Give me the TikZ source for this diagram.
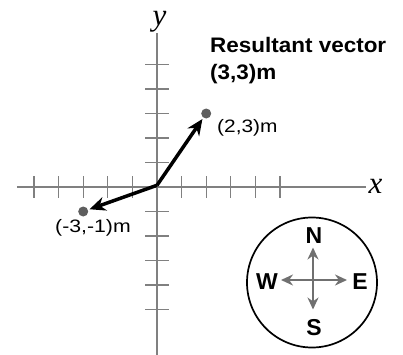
\documentclass[tikz,border=0pt]{standalone}
\usepackage{fontspec}
\setmainfont{Liberation Sans}
\newfontfamily\axisfont{Liberation Serif}
\usetikzlibrary{arrows.meta}
\definecolor{axisgray}{HTML}{808080}
\definecolor{dotgray}{HTML}{5E5E5E}
\definecolor{compassgray}{HTML}{707070}
\newcommand{\wide}[2]{\scalebox{#1}[1]{#2}}
\tikzset{
  axisline/.style={draw=axisgray, line width=1.4pt},
  tickline/.style={draw=axisgray, line width=1.3pt},
  vecarrow/.style={draw=black, line width=3.5pt, -{Stealth[length=16pt,width=14pt]}, shorten >=1.5pt},
  ptdot/.style={circle, fill=dotgray, inner sep=0pt, minimum size=10pt},
  ptlabel/.style={font=\fontsize{18}{21}\selectfont, inner sep=0pt, anchor=base west},
  axlabel/.style={font=\axisfont\itshape\fontsize{31}{33}\selectfont, inner sep=0pt},
  dirarrow/.style={draw=compassgray, line width=2pt, -{Stealth[length=12pt,width=11pt]}},
  dirlabel/.style={font=\bfseries\fontsize{23}{26}\selectfont, inner sep=0pt},
  titlelabel/.style={font=\bfseries\fontsize{21}{27}\selectfont, inner sep=0pt, anchor=base west}
}
\begin{document}
\begin{tikzpicture}
\useasboundingbox (0,0) rectangle (403pt,354pt);
\begin{scope}[shift={(157pt,167pt)}, x=24.6pt, y=24.5pt]
  % axes
  \coordinate (xl) at (-5.7,0);
  \coordinate (xr) at (8.5,0);
  \coordinate (yt) at (0,6.3);
  \coordinate (yb) at (0,-6.9);
  \draw[axisline] (xl) -- (xr);
  \draw[axisline] (yb) -- (yt);
  \foreach \i in {-5,-4,-3,-2,-1,1,2,3,4,5} {
    \draw[tickline] (\i,-0.44) -- (\i,0.44);
    \draw[tickline] (-0.47,\i) -- (0.47,\i);
  }
  \node[axlabel] (xlab) at (8.88,0.04) {x};
  \node[axlabel] (ylab) at (0.1,6.76) {y};
  % points
  \coordinate (O) at (0,0.07);
  \node[ptdot] (P) at (2,3) {};
  \node[ptdot] (Q) at (-3,-1) {};
  \draw[vecarrow] (O) -- (P);
  \draw[vecarrow] (O) -- (Q);
\end{scope}
\node[ptlabel] (Plab) at (217pt,222pt) {\wide{1.16}{(2,3)m}};
\node[ptlabel] (Qlab) at (55pt,122pt) {\wide{1.18}{(-3,-1)m}};
\node[titlelabel] (title1) at (210pt,301pt) {\wide{1.07}{Resultant vector}};
\node[titlelabel] (title2) at (210pt,274pt) {\wide{1.07}{(3,3)m}};
% compass
\begin{scope}[shift={(312pt,354pt-282.5pt)}]
  \node[circle, draw=black, line width=1.7pt, minimum size=130pt, inner sep=0pt] (compass) at (0,0) {};
  \coordinate (cc) at (1pt,2.5pt);
  \coordinate (cn) at (1pt,35pt);
  \coordinate (cs) at (1pt,-27pt);
  \coordinate (cw) at (-31pt,2.5pt);
  \coordinate (ce) at (35pt,2.5pt);
  \draw[dirarrow] (cc) -- (cn);
  \draw[dirarrow] (cc) -- (cs);
  \draw[dirarrow] (cc) -- (cw);
  \draw[dirarrow] (cc) -- (ce);
  \node[dirlabel] (N) at (2pt,47pt) {N};
  \node[dirlabel] (S) at (2pt,-45pt) {S};
  \node[dirlabel] (W) at (-45pt,0.5pt) {W};
  \node[dirlabel] (E) at (48pt,0.5pt) {E};
\end{scope}
\end{tikzpicture}
\end{document}
